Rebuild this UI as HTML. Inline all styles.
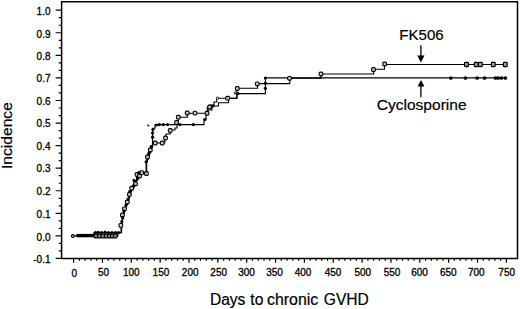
<!DOCTYPE html>
<html><head><meta charset="utf-8"><style>
html,body{margin:0;padding:0;background:#fff;}
svg{display:block;font-family:"Liberation Sans",sans-serif;}
</style></head><body>
<svg width="520" height="309" viewBox="0 0 520 309">
<path d="M61.6 258.6 V1.85 H517.5 V258.6 Z" fill="none" stroke="#000" stroke-width="1.5" stroke-linejoin="miter"/>
<path d="M55.6 10.20H61.6M58.7 17.72H61.6M58.7 25.25H61.6M55.6 32.77H61.6M58.7 40.29H61.6M58.7 47.82H61.6M55.6 55.34H61.6M58.7 62.86H61.6M58.7 70.39H61.6M55.6 77.91H61.6M58.7 85.43H61.6M58.7 92.96H61.6M55.6 100.48H61.6M58.7 108.00H61.6M58.7 115.53H61.6M55.6 123.05H61.6M58.7 130.57H61.6M58.7 138.10H61.6M55.6 145.62H61.6M58.7 153.14H61.6M58.7 160.67H61.6M55.6 168.19H61.6M58.7 175.71H61.6M58.7 183.24H61.6M55.6 190.76H61.6M58.7 198.28H61.6M58.7 205.81H61.6M55.6 213.33H61.6M58.7 220.85H61.6M58.7 228.38H61.6M55.6 235.90H61.6M58.7 243.42H61.6M58.7 250.95H61.6M55.6 258.47H61.6M73.60 258.6V262.8M79.37 258.6V260.8M85.14 258.6V260.8M90.91 258.6V260.8M96.68 258.6V260.8M102.45 258.6V262.8M108.22 258.6V260.8M113.99 258.6V260.8M119.76 258.6V260.8M125.53 258.6V260.8M131.30 258.6V262.8M137.07 258.6V260.8M142.84 258.6V260.8M148.61 258.6V260.8M154.38 258.6V260.8M160.15 258.6V262.8M165.92 258.6V260.8M171.69 258.6V260.8M177.46 258.6V260.8M183.23 258.6V260.8M189.00 258.6V262.8M194.77 258.6V260.8M200.54 258.6V260.8M206.31 258.6V260.8M212.08 258.6V260.8M217.85 258.6V262.8M223.62 258.6V260.8M229.39 258.6V260.8M235.16 258.6V260.8M240.93 258.6V260.8M246.70 258.6V262.8M252.47 258.6V260.8M258.24 258.6V260.8M264.01 258.6V260.8M269.78 258.6V260.8M275.55 258.6V262.8M281.32 258.6V260.8M287.09 258.6V260.8M292.86 258.6V260.8M298.63 258.6V260.8M304.40 258.6V262.8M310.17 258.6V260.8M315.94 258.6V260.8M321.71 258.6V260.8M327.48 258.6V260.8M333.25 258.6V262.8M339.02 258.6V260.8M344.79 258.6V260.8M350.56 258.6V260.8M356.33 258.6V260.8M362.10 258.6V262.8M367.87 258.6V260.8M373.64 258.6V260.8M379.41 258.6V260.8M385.18 258.6V260.8M390.95 258.6V262.8M396.72 258.6V260.8M402.49 258.6V260.8M408.26 258.6V260.8M414.03 258.6V260.8M419.80 258.6V262.8M425.57 258.6V260.8M431.34 258.6V260.8M437.11 258.6V260.8M442.88 258.6V260.8M448.65 258.6V262.8M454.42 258.6V260.8M460.19 258.6V260.8M465.96 258.6V260.8M471.73 258.6V260.8M477.50 258.6V262.8M483.27 258.6V260.8M489.04 258.6V260.8M494.81 258.6V260.8M500.58 258.6V260.8M506.35 258.6V262.8" fill="none" stroke="#000" stroke-width="1.2"/>
<g font-size="10" stroke="#000" stroke-width="0.3"><text x="50.5" y="15.20" text-anchor="end">1.0</text><text x="50.5" y="37.77" text-anchor="end">0.9</text><text x="50.5" y="59.54" text-anchor="end">0.8</text><text x="50.5" y="82.11" text-anchor="end">0.7</text><text x="50.5" y="104.68" text-anchor="end">0.6</text><text x="50.5" y="127.25" text-anchor="end">0.5</text><text x="50.5" y="149.82" text-anchor="end">0.4</text><text x="50.5" y="172.39" text-anchor="end">0.3</text><text x="50.5" y="194.96" text-anchor="end">0.2</text><text x="50.5" y="217.53" text-anchor="end">0.1</text><text x="50.5" y="240.70" text-anchor="end">0.0</text><text x="50.5" y="262.67" text-anchor="end">-0.1</text><text x="74.20" y="276.50" text-anchor="middle">0</text><text x="103.50" y="276.44" text-anchor="middle">50</text><text x="131.35" y="276.38" text-anchor="middle">100</text><text x="160.95" y="276.32" text-anchor="middle">150</text><text x="190.20" y="276.26" text-anchor="middle">200</text><text x="218.70" y="276.20" text-anchor="middle">250</text><text x="246.60" y="276.14" text-anchor="middle">300</text><text x="274.60" y="276.08" text-anchor="middle">350</text><text x="303.10" y="276.02" text-anchor="middle">400</text><text x="333.00" y="275.96" text-anchor="middle">450</text><text x="362.80" y="275.90" text-anchor="middle">500</text><text x="392.10" y="275.84" text-anchor="middle">550</text><text x="419.60" y="275.78" text-anchor="middle">600</text><text x="448.30" y="275.72" text-anchor="middle">650</text><text x="476.30" y="275.66" text-anchor="middle">700</text><text x="506.70" y="275.60" text-anchor="middle">750</text></g>
<g stroke="#000" stroke-width="0.2">
<g font-size="15.6"><text x="209.9" y="305">Days</text><text x="250.3" y="305">to</text><text x="267" y="305" textLength="51.3" lengthAdjust="spacingAndGlyphs">chronic</text><text x="323.8" y="305">GVHD</text></g>
<text transform="translate(12.3 169.1) rotate(-90)" font-size="15.5" textLength="67" lengthAdjust="spacingAndGlyphs">Incidence</text>
<text x="399.3" y="40.4" font-size="15.5" textLength="44.4" lengthAdjust="spacingAndGlyphs">FK506</text>
<text x="376.7" y="110.4" font-size="15.4" textLength="89.9" lengthAdjust="spacingAndGlyphs">Cyclosporine</text>
</g>
<path d="M420.9 45.3V56" stroke="#000" stroke-width="1.3"/>
<path d="M417.3 55.6H424.5L420.9 62.4Z" fill="#000"/>
<path d="M420.9 97.3V86" stroke="#000" stroke-width="1.3"/>
<path d="M417.6 86.6H424.4L421 80Z" fill="#000"/>
<path d="M73.5 235.9H118V232.8H121V225.4H121.8V221.5H122.4V217.5H122.8V214.5H124V211H124.7V208.5H125.8V204.5H127.3V201.5H128.3V198.5H129.2V195.5H129.7V192H131.5V188.5H133.5V185.8H135V183H135.5V180.5H137.5V177.5H139V175H141V173.3H146.1V161.5H147.5V157H149V153H150.5V149H151.5V146H152.5V143H164.8V138H166V134H170.3V130H175V128H177V120.5H178.5V117.2H187.3V113.2H207.3V107H210V105H214V102H216.7V98.3H236.8V88.3H257.5V83.6H289.8V78.1H321V74H373.7V69.3H384.5V64.5H507.3" fill="none" stroke="#000" stroke-width="1.1"/>
<path d="M77 235.9H94V232.6H121.6V223.5H122.2V219.5H123V216H123.5V212.8H124.5V209.8H125.3V206.5H126.6V203H127.8V200H128.8V197H129.5V193.8H130.6V190.3H132.5V187.2H134.3V184.4H135.2V181.8H136.5V179H138.3V176.3H140V174.2H142V172.6H146.7V159.5H148V155.5H149.5V151.5H151V147.5H152.5V128.3H155V124.6H204V119.3H206V115H208V110H212V106H218.5V102.8H228.6V98.3H237V93.6H265.4V77.9H506.5" fill="none" stroke="#000" stroke-width="1.1"/>
<path d="M76.5 235.6H94.5" stroke="#000" stroke-width="3.4"/>
<g fill="#c8c8c8" stroke="#000" stroke-width="1.1"><rect x="94.15" y="234.15" width="3.7" height="3.7" rx="0.8" fill="#888"/><rect x="97.65" y="234.15" width="3.7" height="3.7" rx="0.8" fill="#888"/><rect x="101.15" y="234.15" width="3.7" height="3.7" rx="0.8" fill="#888"/><rect x="104.35" y="234.15" width="3.7" height="3.7" rx="0.8" fill="#888"/><rect x="107.45" y="234.15" width="3.7" height="3.7" rx="0.8" fill="#888"/><rect x="110.45" y="234.15" width="3.7" height="3.7" rx="0.8" fill="#888"/><rect x="113.45" y="234.15" width="3.7" height="3.7" rx="0.8" fill="#888"/><rect x="118.95" y="223.55" width="3.7" height="3.7" rx="1.1"/><rect x="120.55" y="213.15" width="3.7" height="3.7" rx="1.1"/><rect x="122.65" y="206.95" width="3.7" height="3.7" rx="1.1"/><rect x="125.45" y="200.15" width="3.7" height="3.7" rx="1.1"/><rect x="127.55" y="192.65" width="3.7" height="3.7" rx="1.1"/><rect x="129.85" y="186.35" width="3.7" height="3.7" rx="1.1"/><rect x="133.65" y="181.95" width="3.7" height="3.7" rx="1.1"/><rect x="135.15" y="172.65" width="3.7" height="3.7" rx="1.1"/><rect x="137.65" y="174.15" width="3.7" height="3.7" rx="1.1"/><rect x="139.85" y="170.75" width="3.7" height="3.7" rx="1.1"/><rect x="144.55" y="171.65" width="3.7" height="3.7" rx="1.1"/><rect x="145.65" y="155.15" width="3.7" height="3.7" rx="1.1"/><rect x="148.45" y="148.15" width="3.7" height="3.7" rx="1.1"/><rect x="153.45" y="141.15" width="3.7" height="3.7" rx="1.1"/><rect x="160.35" y="141.15" width="3.7" height="3.7" rx="1.1"/><rect x="163.65" y="136.15" width="3.7" height="3.7" rx="1.1"/><rect x="168.35" y="128.65" width="3.7" height="3.7" rx="1.1"/><rect x="174.65" y="120.65" width="3.7" height="3.7" rx="1.1"/><rect x="176.45" y="115.35" width="3.7" height="3.7" rx="1.1"/><rect x="185.35" y="111.15" width="3.7" height="3.7" rx="1.1"/><rect x="193.15" y="111.25" width="3.7" height="3.7" rx="1.1"/><rect x="205.15" y="111.35" width="3.7" height="3.7" rx="1.1"/><rect x="207.75" y="105.15" width="3.7" height="3.7" rx="1.1"/><rect x="225.75" y="96.35" width="3.7" height="3.7" rx="1.1"/><rect x="235.45" y="86.65" width="3.7" height="3.7" rx="1.1"/><rect x="255.45" y="81.95" width="3.7" height="3.7" rx="1.1"/><rect x="287.65" y="76.45" width="3.7" height="3.7" rx="1.1"/><rect x="319.15" y="72.15" width="3.7" height="3.7" rx="1.1"/><rect x="371.65" y="67.65" width="3.7" height="3.7" rx="1.1"/><rect x="382.75" y="62.15" width="3.7" height="3.7" rx="1.1"/><rect x="464.60" y="62.40" width="3.8" height="4.2" rx="0.7" fill="#999"/><rect x="474.30" y="62.40" width="3.8" height="4.2" rx="0.7" fill="#999"/><rect x="478.50" y="62.40" width="3.8" height="4.2" rx="0.7" fill="#999"/><rect x="491.40" y="62.40" width="3.8" height="4.2" rx="0.7" fill="#999"/><rect x="503.40" y="62.40" width="3.8" height="4.2" rx="0.7" fill="#999"/></g>
<g fill="#000"><circle cx="95.5" cy="232.6" r="1.6"/><circle cx="98.2" cy="232.4" r="1.6"/><circle cx="101.5" cy="232.5" r="1.6"/><circle cx="105" cy="232.2" r="1.6"/><circle cx="108.5" cy="232.5" r="1.6"/><circle cx="112" cy="232.5" r="1.6"/><circle cx="115.5" cy="232.5" r="1.6"/><circle cx="118.5" cy="232.5" r="1.6"/><circle cx="121.8" cy="221.5" r="1.6"/><circle cx="122.5" cy="217.5" r="1.6"/><circle cx="124" cy="211" r="1.6"/><circle cx="126" cy="205" r="1.6"/><circle cx="128" cy="199" r="1.6"/><circle cx="129.7" cy="191.5" r="1.6"/><circle cx="133.6" cy="185.7" r="1.6"/><circle cx="134" cy="180.4" r="1.6"/><circle cx="137.5" cy="178" r="1.6"/><circle cx="139" cy="172.5" r="1.6"/><circle cx="146.1" cy="161.8" r="1.6"/><circle cx="148.7" cy="153.5" r="1.6"/><circle cx="151.2" cy="146.5" r="1.6"/><circle cx="152.6" cy="137.2" r="1.6"/><circle cx="152.6" cy="133" r="1.6"/><circle cx="153" cy="129.5" r="1.6"/><circle cx="156.5" cy="125" r="1.6"/><circle cx="159.4" cy="124.6" r="1.6"/><circle cx="163.3" cy="124.6" r="1.6"/><circle cx="167.7" cy="124.6" r="1.6"/><circle cx="180" cy="124.6" r="1.6"/><circle cx="193.4" cy="124.6" r="1.6"/><circle cx="205" cy="119.5" r="1.6"/><circle cx="213" cy="106" r="1.6"/><circle cx="238" cy="93.6" r="1.6"/><circle cx="265.4" cy="88.3" r="1.6"/><circle cx="265.4" cy="83.3" r="1.6"/><circle cx="265.4" cy="78" r="1.6"/><circle cx="450.8" cy="78" r="1.85"/><circle cx="465.4" cy="78" r="1.85"/><circle cx="477.2" cy="78" r="1.85"/><circle cx="484.6" cy="78" r="1.85"/><circle cx="495.4" cy="78" r="1.85"/><circle cx="498.2" cy="78" r="1.85"/><circle cx="501.5" cy="78" r="1.85"/><circle cx="505.4" cy="78" r="1.85"/></g>
<circle cx="72.9" cy="236" r="1.5" fill="#999" stroke="#000" stroke-width="1.1"/>
<path d="M147.3 124.6L149.2 126.3" stroke="#000" stroke-width="1.2"/>
<g fill="#fff" stroke="#000" stroke-width="0.9"><circle cx="217.5" cy="98.2" r="1.2"/><circle cx="235.3" cy="93" r="1.1"/></g>
</svg>
</body></html>
